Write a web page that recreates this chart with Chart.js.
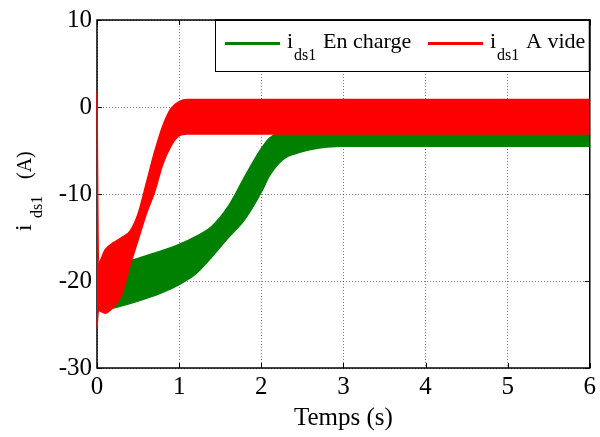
<!DOCTYPE html>
<html>
<head>
<meta charset="utf-8">
<script src="https://cdn.jsdelivr.net/npm/chart.js@4.4.1/dist/chart.umd.min.js"></script>
<style>
  html, body { margin: 0; padding: 0; background: #ffffff; }
  #wrap { width: 600px; height: 437px; }
</style>
</head>
<body>
<div id="wrap"><canvas id="c" width="600" height="437"></canvas></div>
<script>
// ---- Data (envelopes of the oscillating currents) ----
const seriesNames = ['En charge', 'A vide'];
const xTickValues = [0, 1, 2, 3, 4, 5, 6];
const yTickValues = [-30, -20, -10, 0, 10];

// "A vide" (red): upper / lower envelope of i_ds1
const redTime  = [0, 0.018, 0.1, 0.2, 0.3, 0.4, 0.5, 0.6, 0.7, 0.8, 0.9, 1.0, 1.1, 1.5, 2, 3, 4, 5, 6];
const redUpper = [1.7, -17.9, -16.4, -15.6, -15.0, -14.3, -12.3, -8.8, -5.2, -2.2, -0.2, 0.6, 0.85, 0.85, 0.85, 0.85, 0.85, 0.85, 0.85];
const redLower = [-25.3, -23.4, -23.7, -23.0, -21.6, -18.3, -15.3, -12.3, -9.8, -6.6, -4.5, -3.3, -3.1, -3.1, -3.1, -3.1, -3.1, -3.1, -3.1];

// "En charge" (green): upper / lower envelope of i_ds1
const greenTime  = [0, 0.1, 0.2, 0.4, 0.6, 0.8, 1.0, 1.2, 1.4, 1.6, 1.8, 2.0, 2.1, 2.2, 2.3, 2.4, 2.6, 2.8, 3, 4, 5, 6];
const greenUpper = [-18.5, -18.3, -18.1, -17.7, -17.1, -16.5, -15.8, -14.9, -13.7, -11.4, -8.0, -4.8, -3.6, -3.0, -2.8, -2.8, -2.8, -2.8, -2.8, -2.8, -2.8, -2.8];
const greenLower = [-23.4, -23.3, -23.1, -22.6, -22.0, -21.3, -20.4, -19.2, -17.2, -15.0, -12.9, -9.8, -7.9, -6.6, -5.8, -5.4, -4.9, -4.6, -4.5, -4.5, -4.5, -4.5];

const RED = '#ff0000';
const GREEN = '#008000';
const SERIF = "'Liberation Serif', 'Times New Roman', serif";

function pts(t, v) { return t.map((x, i) => ({ x: x, y: v[i] })); }

const matlabDecor = {
  id: 'matlabDecor',
  beforeDatasetsDraw(chart) {
    const ctx = chart.ctx;
    const a = chart.chartArea;
    const xs = chart.scales.x, ys = chart.scales.y;
    ctx.save();
    // inward tick marks
    ctx.strokeStyle = '#000';
    ctx.lineWidth = 1;
    ctx.beginPath();
    xTickValues.forEach(v => {
      const px = Math.round(xs.getPixelForValue(v)) + 0.5;
      ctx.moveTo(px, a.bottom); ctx.lineTo(px, a.bottom - 5);
      ctx.moveTo(px, a.top); ctx.lineTo(px, a.top + 5);
    });
    yTickValues.forEach(v => {
      const py = Math.round(ys.getPixelForValue(v)) + 0.5;
      ctx.moveTo(a.left, py); ctx.lineTo(a.left + 5, py);
      ctx.moveTo(a.right, py); ctx.lineTo(a.right - 5, py);
    });
    ctx.stroke();
    // axes box
    ctx.lineWidth = 1.5;
    ctx.strokeStyle = '#000';
    ctx.strokeRect(a.left, a.top, a.right - a.left, a.bottom - a.top);
    ctx.restore();
  },
  afterDraw(chart) {
    const ctx = chart.ctx;
    const a = chart.chartArea;
    ctx.save();
    // legend box
    const lx = a.left + 118, ly = a.top, lw = a.right - lx, lh = 51;
    ctx.fillStyle = '#fff';
    ctx.fillRect(lx, ly, lw, lh);
    ctx.strokeStyle = '#000';
    ctx.lineWidth = 1;
    ctx.strokeRect(lx + 0.5, ly + 0.5, lw - 1, lh);
    const entries = [
      { color: GREEN, x0: lx + 10, name: seriesNames[0] },
      { color: RED, x0: lx + 213, name: seriesNames[1] }
    ];
    entries.forEach(e => {
      ctx.strokeStyle = e.color;
      ctx.lineWidth = 3;
      ctx.beginPath();
      ctx.moveTo(e.x0, ly + 23.5);
      ctx.lineTo(e.x0 + 55, ly + 23.5);
      ctx.stroke();
      ctx.fillStyle = '#000';
      ctx.textBaseline = 'alphabetic';
      ctx.textAlign = 'left';
      ctx.font = '22px ' + SERIF;
      ctx.fillText('i', e.x0 + 62, ly + 28);
      ctx.font = '16px ' + SERIF;
      ctx.fillText('ds1', e.x0 + 69, ly + 40);
      ctx.font = '22px ' + SERIF;
      ctx.fillText(e.name, e.x0 + 98, ly + 28);
    });
    // top axis line over legend edge
    ctx.strokeStyle = '#000';
    ctx.lineWidth = 1.5;
    ctx.beginPath();
    ctx.moveTo(lx, a.top); ctx.lineTo(a.right, a.top); ctx.lineTo(a.right, ly + lh);
    ctx.stroke();

    // x-axis title
    ctx.fillStyle = '#000';
    ctx.font = '25px ' + SERIF;
    ctx.textAlign = 'center';
    ctx.textBaseline = 'alphabetic';
    ctx.fillText('Temps (s)', (a.left + a.right) / 2, 425);

    // y-axis title (rotated, with subscript)
    ctx.translate(31, 231);
    ctx.rotate(-Math.PI / 2);
    ctx.textAlign = 'left';
    ctx.font = '24px ' + SERIF;
    ctx.fillText('i', 0, 0);
    ctx.font = '16px ' + SERIF;
    ctx.fillText('ds1', 13, 11);
    ctx.font = '20px ' + SERIF;
    ctx.fillText('(A)', 52, 0);
    ctx.restore();
  }
};

const ds = (label, t, v, color, fill) => ({
  label: label,
  data: pts(t, v),
  borderColor: color,
  backgroundColor: color,
  borderWidth: 1.5,
  pointRadius: 0,
  cubicInterpolationMode: 'monotone',
  clip: 3,
  fill: fill
});

new Chart(document.getElementById('c'), {
  type: 'line',
  data: {
    datasets: [
      ds('i_ds1 A vide (haut)', redTime, redUpper, RED, false),
      ds('i_ds1 A vide (bas)', redTime, redLower, RED, '-1'),
      ds('i_ds1 En charge (haut)', greenTime, greenUpper, GREEN, false),
      ds('i_ds1 En charge (bas)', greenTime, greenLower, GREEN, '-1')
    ]
  },
  options: {
    responsive: false,
    animation: false,
    devicePixelRatio: 1,
    layout: { autoPadding: false, padding: { left: 0, top: 16, right: 8, bottom: 0 } },
    plugins: { legend: { display: false }, tooltip: { enabled: false } },
    scales: {
      x: {
        type: 'linear', min: 0, max: 6,
        afterFit(s) { s.height = 69; },
        afterBuildTicks(s) { s.ticks = xTickValues.map(v => ({ value: v })); },
        ticks: { color: '#000', font: { family: SERIF, size: 25 }, padding: 4, maxRotation: 0 },
        grid: { color: 'rgba(0,0,0,0.5)', lineWidth: 1, drawTicks: false },
        border: { display: false, dash: [1, 2] }
      },
      y: {
        type: 'linear', min: -30, max: 10,
        afterFit(s) { s.width = 97; },
        afterBuildTicks(s) { s.ticks = yTickValues.map(v => ({ value: v })); },
        ticks: { color: '#000', font: { family: SERIF, size: 25 }, padding: 5 },
        grid: { color: 'rgba(0,0,0,0.5)', lineWidth: 1, drawTicks: false },
        border: { display: false, dash: [1, 2] }
      }
    }
  },
  plugins: [matlabDecor]
});
</script>
</body>
</html>
